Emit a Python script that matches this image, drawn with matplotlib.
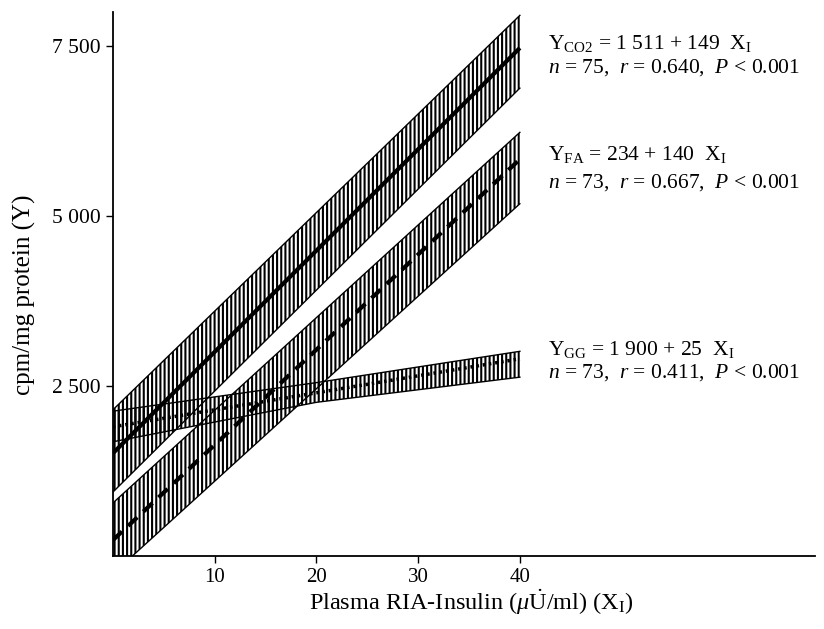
import matplotlib
matplotlib.use("Agg")
import matplotlib.pyplot as plt

plt.rcParams["font.family"] = ["Liberation Serif", "DejaVu Serif"]
plt.rcParams["mathtext.fontset"] = "custom"
plt.rcParams["mathtext.rm"] = "Liberation Serif"
plt.rcParams["mathtext.it"] = "Liberation Serif:italic"
plt.rcParams["hatch.linewidth"] = 1.5

# regression fits (x = insulin, y = cpm/mg protein)
x_fit = [0, 40]
co2_fit = [1511, 7471]
fa_fit = [234, 5834]
gg_fit = [1900, 2900]

# confidence bands
x_band = [0, 40]
co2_lower = [940, 6880]
co2_upper = [2150, 7950]
fa_lower = [-260, 5180]
fa_upper = [780, 6230]
x_band_gg = [0, 20, 40]
gg_lower = [1680, 2260, 2630]
gg_upper = [2130, 2550, 3010]

x_ticks = [10, 20, 30, 40]
y_ticks = [2500, 5000, 7500]
y_tick_labels = ["2 500", "5 000", "7 500"]

labels = [
    (r"Y$_{\mathrm{CO2}}$ = 1 511 + 149  X$_{\mathrm{I}}$", 7540),
    (r"$n$ = 75,  $r$ = 0.640,  $P$ < 0.001", 7180),
    (r"Y$_{\mathrm{FA}}$ = 234 + 140  X$_{\mathrm{I}}$", 5900),
    (r"$n$ = 73,  $r$ = 0.667,  $P$ < 0.001", 5490),
    (r"Y$_{\mathrm{GG}}$ = 1 900 + 25  X$_{\mathrm{I}}$", 3030),
    (r"$n$ = 73,  $r$ = 0.411,  $P$ < 0.001", 2700),
]

fig = plt.figure(figsize=(8.24, 6.29), dpi=100)
ax = fig.add_axes([0.137, 0.116, 0.852, 0.865])

bands = [(x_band, co2_lower, co2_upper), (x_band, fa_lower, fa_upper),
         (x_band_gg, gg_lower, gg_upper)]
for xb, lo, hi in bands:
    ax.fill_between(xb, lo, hi, facecolor="none", edgecolor="black",
                    hatch="||||", linewidth=0)
    ax.plot(xb, lo, color="black", lw=1)
    ax.plot(xb, hi, color="black", lw=1)

ax.plot(x_fit, co2_fit, color="black", lw=3, solid_capstyle="butt")
ax.plot(x_fit, fa_fit, color="black", lw=3, linestyle=(0, (3, 2)))
ax.plot(x_fit, gg_fit, color="black", lw=2.5, linestyle=(0, (0.7, 1.1)))

for txt, yv in labels:
    ax.text(42.8, yv, txt, fontsize=15.5, va="center", ha="left")

ax.set_xlim(0, 69)
ax.set_ylim(0, 8000)
ax.set_xticks(x_ticks)
ax.set_xticklabels([str(t) for t in x_ticks], fontsize=15)
ax.set_yticks(y_ticks)
ax.set_yticklabels(y_tick_labels, fontsize=15.5)
ax.tick_params(direction="out", length=5, width=1)
ax.spines["top"].set_visible(False)
ax.spines["right"].set_visible(False)
ax.spines["left"].set_linewidth(1.3)
ax.spines["bottom"].set_linewidth(1.3)

ax.set_xlabel(r"Plasma RIA-Insulin ($\mu\dot{\mathrm{U}}$/ml) (X$_{\mathrm{I}}$)",
              fontsize=17.5)
ax.xaxis.set_label_coords(0.51, -0.058)
ax.set_ylabel("cpm/mg protein (Y)", fontsize=18)
ax.yaxis.set_label_coords(-0.11, 0.48)

fig.savefig("out.png", dpi=100)
